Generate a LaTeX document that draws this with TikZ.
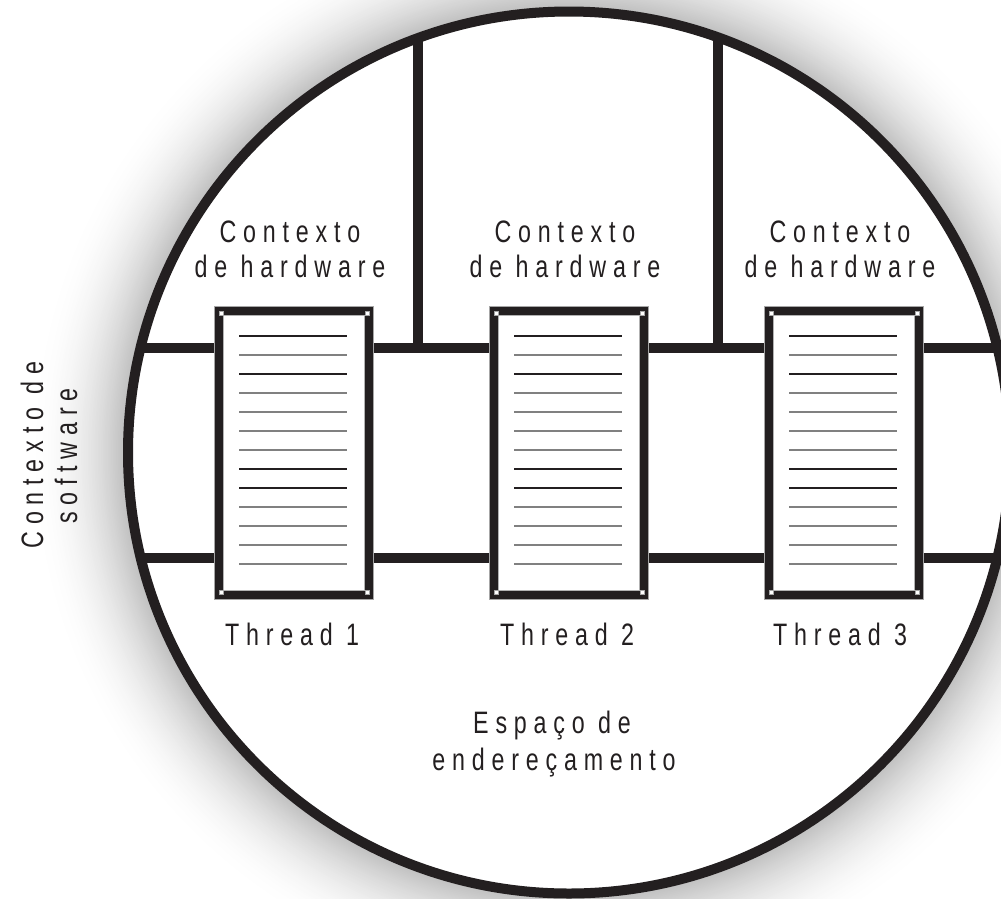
\documentclass[tikz,border=0pt]{standalone}
\usepackage{fontspec}
\newfontfamily\labfont[FakeStretch=0.75,LetterSpace=22]{Liberation Sans}
\definecolor{ink}{RGB}{35,31,32}
\begin{document}
\begin{tikzpicture}[x=1pt,y=-1pt,
  wall/.style={draw=ink,line width=10pt},
  threadbox/.style={draw=ink,line width=8pt,fill=white,minimum width=150pt,minimum height=284pt,inner sep=0pt,outer sep=0pt},
  lab/.style={font=\labfont\fontsize{31}{35}\selectfont,text=ink,inner sep=0pt,anchor=base},
  darkrule/.style={draw=ink,line width=1.3pt},
  greyrule/.style={draw=black!50,line width=1.3pt},
  corner/.style={fill=white,draw=black!35,line width=0.4pt},
]
\useasboundingbox (0,0) rectangle (1001,898);
\clip (0,0) rectangle (1001,898);
\coordinate (c) at (569,452.5);
% soft shadow around the circle
\foreach \i in {0,...,60}{
  \pgfmathsetmacro\r{441+100*(1-\i/60)}
  \pgfmathsetmacro\v{27*(\i/60)^2}
  \fill[black!\v] (c) circle[radius=\r pt];
}
\fill[white] (c) circle[radius=441pt];
% walls
\coordinate (hu) at (0,348);
\coordinate (hl) at (0,558);
\coordinate (cl) at (100,0);
\coordinate (cr) at (1040,0);
\coordinate (v1) at (418,-20);
\coordinate (v2) at (718,-20);
% threads
\node[threadbox] (t1) at (294,453) {};
\node[threadbox] (t2) at (569,453) {};
\node[threadbox] (t3) at (844,453) {};
\begin{scope}
  \clip (c) circle[radius=441pt];
  \draw[wall] (v1) -- (v1 |- hu);
  \draw[wall] (v2) -- (v2 |- hu);
  \foreach \h in {hu,hl}{
    \draw[wall] (cl |- \h) -- (t1.west |- \h);
    \draw[wall] (t1.east |- \h) -- (t2.west |- \h);
    \draw[wall] (t2.east |- \h) -- (t3.west |- \h);
    \draw[wall] (t3.east |- \h) -- (cr |- \h);
  }
\end{scope}
% redraw thread boxes above the walls
\foreach \t in {t1,t2,t3}{
  \node[threadbox] at (\t) {};
  \draw[black!35,line width=0.6pt] ([shift={(-4.3,-4.3)}]\t.north west) rectangle ([shift={(4.3,4.3)}]\t.south east);
  \draw[black!30,line width=0.6pt] ([shift={(4.3,4.3)}]\t.north west) rectangle ([shift={(-4.3,-4.3)}]\t.south east);
  \foreach \j/\s in {0/darkrule,1/greyrule,2/darkrule,3/greyrule,4/greyrule,5/greyrule,6/greyrule,7/darkrule,8/darkrule,9/greyrule,10/greyrule,11/greyrule,12/greyrule}{
    \draw[\s] ([shift={(-55,{-117+19*\j})}]\t.center) -- ++(108,0);
  }
  \draw[corner] ([shift={(2,2.5)}]\t.north west) +(-2,-2) rectangle +(2,2);
  \draw[corner] ([shift={(-2,2.5)}]\t.north east) +(-2,-2) rectangle +(2,2);
  \draw[corner] ([shift={(2,-2.5)}]\t.south west) +(-2,-2) rectangle +(2,2);
  \draw[corner] ([shift={(-2,-2.5)}]\t.south east) +(-2,-2) rectangle +(2,2);
}
% outer circle
\draw[wall] (c) circle[radius=441pt];
% labels
\node[lab] (hw1a) at (290,242) {Contexto};
\node[lab] (hw1b) at (290,277) {de hardware};
\node[lab] (hw2a) at (565,242) {Contexto};
\node[lab] (hw2b) at (565,277) {de hardware};
\node[lab] (hw3a) at (840,242) {Contexto};
\node[lab] (hw3b) at (840,277) {de hardware};
\node[lab] (th1) at (292,645) {Thread 1};
\node[lab] (th2) at (567,645) {Thread 2};
\node[lab] (th3) at (840,645) {Thread 3};
\node[lab] (esa) at (552,733) {Espaço de};
\node[lab] (esb) at (554,770) {endereçamento};
\node[lab,rotate=90] (swa) at (43,455) {Contexto de};
\node[lab,rotate=90] (swb) at (77,456) {software};
\end{tikzpicture}
\end{document}
